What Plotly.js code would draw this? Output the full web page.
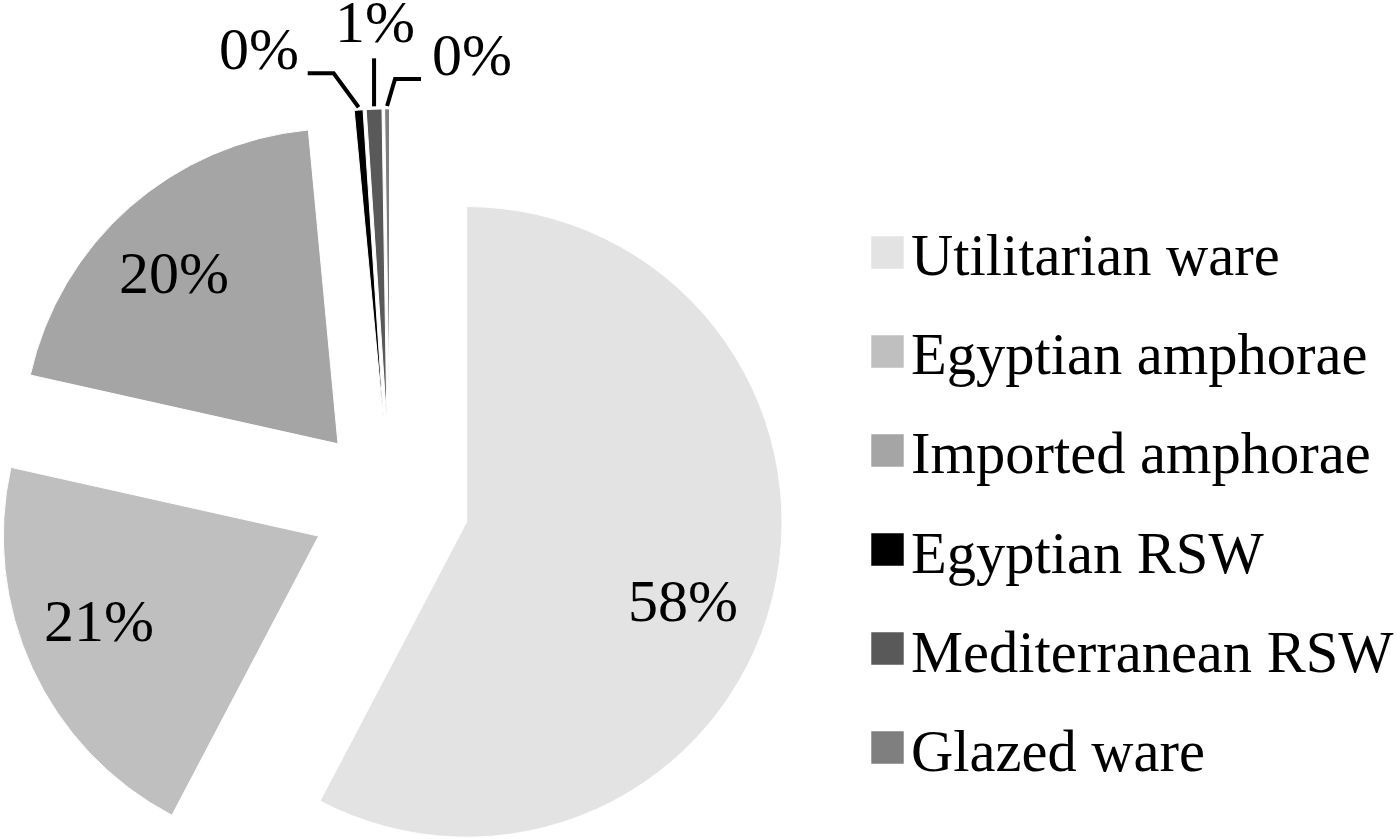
<!DOCTYPE html>
<html>
<head>
<meta charset="utf-8">
<script src="https://cdn.plot.ly/plotly-3.0.1.min.js"></script>
<style>
html,body{margin:0;padding:0;overflow:hidden;background:#fff;}
#chart{position:absolute;left:-4px;top:0;width:1404px;height:1000px;}
</style>
</head>
<body>
<div id="chart"></div>
<script>
const categories = ["Utilitarian ware","Egyptian amphorae","Imported amphorae","Egyptian RSW","Mediterranean RSW","Glazed ware"];
const values = [57.7, 20.8, 20.0, 0.45, 0.8, 0.25];
const colors = ["#e3e3e3","#bfbfbf","#a5a5a5","#000000","#595959","#7f7f7f"];

const FONT = "Liberation Serif, Times New Roman, serif";
const LABEL_SIZE = 60;
const W = 1404, H = 1000;
const PULL = 0.25;
const DOM = {x: [0, 790 / W], y: [0.102, 0.892]};

// pie geometry as Plotly computes it (no margins)
const boxW = W * (DOM.x[1] - DOM.x[0]);
const boxH = H * (DOM.y[1] - DOM.y[0]);
const R = Math.min(boxW, boxH) / (2 + 2 * PULL);
const CX = W * (DOM.x[0] + DOM.x[1]) / 2;
const CY = H * (1 - DOM.y[0]) - boxH / 2;
const total = values.reduce((a, b) => a + b, 0);

let cum = 0;
const mids = values.map(v => { const m = (cum + v / 2) / total * 2 * Math.PI; cum += v; return m; });
const pct = values.map(v => Math.round(v / total * 100) + "%");
const px = x => x / W, py = y => 1 - y / H;
// point at distance d (in radii) from the pulled slice apex, at slice mid-angle + offset (deg)
function at(i, d, offDeg) {
  const a0 = mids[i];
  const a = a0 + (offDeg || 0) * Math.PI / 180;
  const ax = CX + R * PULL * Math.sin(a0), ay = CY - R * PULL * Math.cos(a0);
  return [ax + R * d * Math.sin(a), ay - R * d * Math.cos(a)];
}
function tipOf(i) {
  const a = mids[i], rr = R * (1 + PULL);
  return [CX + rr * Math.sin(a), CY - rr * Math.cos(a)];
}

const annotations = [];
const shapes = [];
const labelFont = {family: FONT, size: LABEL_SIZE, color: "#000"};
// inside labels for large slices
const labelRadius = [0.73, 0.745, 0.75];
const labelAngle = [6.2, 3.8, -2.5];
[0, 1, 2].forEach(i => {
  const [x, y] = at(i, labelRadius[i], labelAngle[i]);
  annotations.push({xref: "paper", yref: "paper", x: px(x), y: py(y), text: pct[i], showarrow: false,
    xanchor: "center", yanchor: "middle", font: labelFont});
});
// outside labels with leader lines for small slices
const LW = 4;
function leader(pts) {
  return pts.map((p, k) => (k ? "L" : "M") + px(p[0]) + "," + py(p[1])).join(" ");
}
{
  const [tx, ty] = tipOf(3);
  const p1 = [tx - 25, ty - 36], p2 = [tx - 51, ty - 36];
  shapes.push({type: "path", xref: "paper", yref: "paper", line: {color: "#000", width: LW},
    path: leader([[tx, ty - 2], p1, p2])});
  annotations.push({xref: "paper", yref: "paper", x: px(p2[0] - 7), y: py(p2[1] - 24), text: pct[3], showarrow: false,
    xanchor: "right", yanchor: "middle", font: labelFont});
}
{
  const [tx, ty] = tipOf(4);
  const p1 = [tx, ty - 50];
  shapes.push({type: "path", xref: "paper", yref: "paper", line: {color: "#000", width: LW},
    path: leader([[tx, ty - 2], p1])});
  annotations.push({xref: "paper", yref: "paper", x: px(tx + 1), y: py(ty - 86), text: pct[4], showarrow: false,
    xanchor: "center", yanchor: "middle", font: labelFont});
}
{
  const [tx, ty] = tipOf(5);
  const p1 = [tx + 8, ty - 29], p2 = [tx + 34, ty - 29];
  shapes.push({type: "path", xref: "paper", yref: "paper", line: {color: "#000", width: LW},
    path: leader([[tx, ty - 2], p1, p2])});
  annotations.push({xref: "paper", yref: "paper", x: px(p2[0] + 9), y: py(p2[1] - 24), text: pct[5], showarrow: false,
    xanchor: "left", yanchor: "middle", font: labelFont});
}

const trace = {
  type: "pie",
  labels: categories.map(c => '<span style="font-size:58.5px">' + c + '</span>'),
  values: values,
  sort: false,
  direction: "clockwise",
  rotation: 0,
  pull: PULL,
  marker: {colors: colors, line: {color: "#ffffff", width: 1}},
  textinfo: "none",
  hoverinfo: "none",
  domain: DOM,
  automargin: false
};

const layout = {
  width: W,
  height: H,
  margin: {l: 0, r: 0, t: 0, b: 0},
  paper_bgcolor: "#ffffff",
  showlegend: true,
  legend: {
    x: 877 / W, xanchor: "left",
    y: 0.809, yanchor: "top",
    font: {family: FONT, size: 74.1, color: "#000000"},
    itemwidth: 30,
    bgcolor: "rgba(0,0,0,0)"
  },
  annotations: annotations,
  shapes: shapes
};

// legend swatch size and placement (page pixels)
const SYM_SCALE = 2.95, SYM_X = 887.5, SYM_Y0 = 252.5, SYM_STEP = 99;
Plotly.newPlot("chart", [trace], layout, {staticPlot: true}).then(gd => {
  gd.querySelectorAll(".legend .traces").forEach((item, k) => {
    const p = item.querySelector(".legendpoints path");
    if (!p) return;
    const orig = p.getAttribute("transform") || "";
    p.setAttribute("transform", orig + ` scale(${SYM_SCALE})`);
    const pr = p.getBoundingClientRect();
    const dx = SYM_X - (pr.left + pr.width / 2);
    const dy = (SYM_Y0 + k * SYM_STEP) - (pr.top + pr.height / 2);
    p.setAttribute("transform", orig + ` translate(${dx},${dy}) scale(${SYM_SCALE})`);
  });
});
</script>
</body>
</html>
